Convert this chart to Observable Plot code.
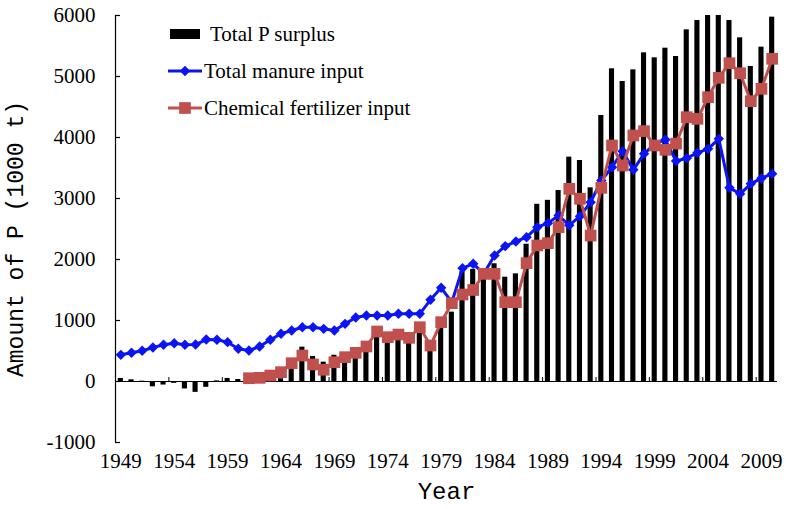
<!DOCTYPE html>
<html>
<head>
<meta charset="utf-8">
<script src="https://cdn.jsdelivr.net/npm/d3@7"></script>
<script src="https://cdn.jsdelivr.net/npm/@observablehq/plot@0.6"></script>
<style>
  html, body { margin: 0; padding: 0; background: #fff; }
  #wrap { position: relative; width: 786px; height: 509px; }
  #legend { position: absolute; left: 0; top: 0; pointer-events: none; }
</style>
</head>
<body>
<div id="wrap"></div>
<script>
// ---- data ----
const years = [1949,1950,1951,1952,1953,1954,1955,1956,1957,1958,1959,1960,1961,1962,1963,1964,1965,1966,1967,1968,1969,1970,1971,1972,1973,1974,1975,1976,1977,1978,1979,1980,1981,1982,1983,1984,1985,1986,1987,1988,1989,1990,1991,1992,1993,1994,1995,1996,1997,1998,1999,2000,2001,2002,2003,2004,2005,2006,2007,2008,2009,2010];
const surplus = [50,28,5,-87,-58,-30,-122,-178,-95,10,50,33,15,20,30,45,208,563,410,317,430,320,440,540,727,670,700,645,795,520,890,1137,1800,1840,1720,1930,1710,1765,2250,2905,2970,3131,3678,3623,3175,4361,5126,4918,5109,5388,5306,5464,5328,5765,5918,6000,6000,5918,5634,5164,5481,5973];
const manure = [437,470,503,557,601,628,601,606,688,683,645,536,508,574,683,782,836,890,890,863,836,945,1050,1082,1082,1082,1110,1110,1110,1339,1536,1300,1858,1929,1770,2066,2219,2295,2366,2530,2596,2721,2560,2710,2940,3295,3513,3775,3470,3732,3896,3962,3615,3661,3749,3814,3978,3175,3077,3240,3333,3404];
const fertilizer = [null,null,null,null,null,null,null,null,null,null,null,null,54,60,98,153,300,426,279,192,316,399,470,574,820,727,770,716,890,590,973,1284,1426,1500,1765,1765,1300,1300,1940,2230,2268,2530,3158,2995,2393,3175,3869,3541,4033,4104,3869,3798,3900,4333,4306,4661,4978,5218,5054,4595,4798,5290];
const xTickYears = [1949,1954,1959,1964,1969,1974,1979,1984,1989,1994,1999,2004,2009];
const yTicks = [-1000,0,1000,2000,3000,4000,5000,6000];
const seriesNames = ["Total P surplus","Total manure input","Chemical fertilizer input"];
const axisTitles = {x: "Year", y: "Amount of P (1000 t)"};

const table = years.map((year, i) => ({year, surplus: surplus[i], manure: manure[i], fertilizer: fertilizer[i]}));
const xDomain = [years[0] - 0.5, years[years.length - 1] + 0.5];

const W = 786, H = 509, mL = 115, mR = 9, mT = 15, mB = 67;
const frameW = W - mL - mR;

const colBlue = "#0a14f5";
const colRed = "#c0504d";
const serif = "'Liberation Serif', 'Times New Roman', serif";
const titleFont = "'Liberation Mono', 'DejaVu Sans Mono', monospace";

const chart = Plot.plot({
  width: W, height: H,
  marginLeft: mL, marginRight: mR, marginTop: mT, marginBottom: mB,
  x: {domain: xDomain, axis: null},
  y: {domain: [yTicks[0], yTicks[yTicks.length - 1]], axis: null},
  style: {fontFamily: serif, fontSize: "21px", color: "black", background: "white"},
  marks: [
    Plot.rectY(table, {x1: d => d.year - 0.24, x2: d => d.year + 0.24, y1: 0, y2: "surplus", fill: "black"}),
    Plot.ruleY([0], {stroke: "black", strokeWidth: 1.2}),
    Plot.ruleX([xDomain[0]], {stroke: "black", strokeWidth: 1.2}),
    Plot.tickY(yTicks, {y: d => d, insetRight: frameW - 5, stroke: "black", strokeWidth: 1.2}),
    Plot.tickX(xTickYears.slice(1).map(d => d - 0.5), {x: d => d, insetTop: 362, insetBottom: 61, stroke: "black"}),
    Plot.axisY({ticks: yTicks, tickSize: 0, tickPadding: 20, tickFormat: d => String(d), label: null, fontSize: 21}),
    Plot.axisX({ticks: xTickYears, tickSize: 0, tickPadding: 11, tickFormat: d => String(d), label: null, fontSize: 21}),
    Plot.line(table, {x: "year", y: "manure", stroke: colBlue, strokeWidth: 3}),
    Plot.dot(table, {x: "year", y: "manure", symbol: "diamond2", r: 4.7, fill: colBlue, stroke: "none"}),
    Plot.line(table.filter(d => d.fertilizer != null), {x: "year", y: "fertilizer", stroke: colRed, strokeWidth: 3}),
    Plot.dot(table.filter(d => d.fertilizer != null), {x: "year", y: "fertilizer", symbol: "square", r: 6.6, fill: colRed, stroke: "none"}),
    Plot.text([axisTitles.y], {frameAnchor: "left", textAnchor: "middle", dx: -100, dy: 10, rotate: -90, fontFamily: titleFont, fontSize: 23}),
    Plot.text([axisTitles.x], {frameAnchor: "bottom", textAnchor: "middle", dy: 56, fontFamily: titleFont, fontSize: 24})
  ]
});

const wrap = document.getElementById("wrap");
wrap.appendChild(chart);

// legend overlay
const leg = d3.select(wrap).append("svg").attr("id", "legend").attr("width", W).attr("height", H)
  .style("font-family", serif).style("font-size", "21px");
leg.append("rect").attr("x", 170).attr("y", 29).attr("width", 30).attr("height", 10).attr("fill", "black");
leg.append("text").attr("x", 210).attr("y", 34).attr("dy", "0.35em").text(seriesNames[0]);
leg.append("line").attr("x1", 168).attr("x2", 202).attr("y1", 71).attr("y2", 71).attr("stroke", colBlue).attr("stroke-width", 3);
leg.append("path").attr("d", d3.symbol(d3.symbolDiamond2, Math.PI * 4.7 * 4.7)()).attr("transform", "translate(185,71)").attr("fill", colBlue);
leg.append("text").attr("x", 204).attr("y", 71).attr("dy", "0.35em").text(seriesNames[1]);
leg.append("line").attr("x1", 168).attr("x2", 202).attr("y1", 108).attr("y2", 108).attr("stroke", colRed).attr("stroke-width", 3);
leg.append("path").attr("d", d3.symbol(d3.symbolSquare, Math.PI * 6.6 * 6.6)()).attr("transform", "translate(185,108)").attr("fill", colRed);
leg.append("text").attr("x", 204).attr("y", 108).attr("dy", "0.35em").text(seriesNames[2]);
</script>
</body>
</html>
